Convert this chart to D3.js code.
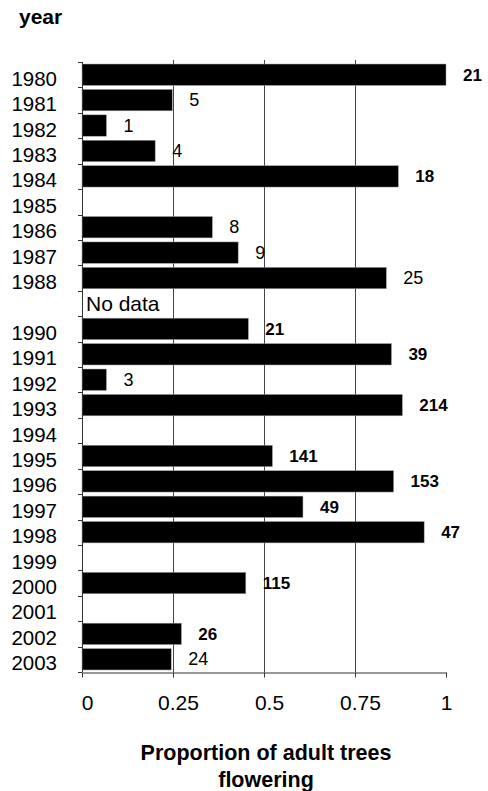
<!DOCTYPE html>
<html>
<head>
<meta charset="utf-8">
<script src="https://cdn.jsdelivr.net/npm/d3@7"></script>
<style>
  html, body { margin: 0; padding: 0; background: #fff; }
  svg { display: block; font-family: "Liberation Sans", Arial, sans-serif; }
</style>
</head>
<body>
<svg id="chart" width="488" height="791"></svg>
<script>
// ---- data ----
const years = ["1980","1981","1982","1983","1984","1985","1986","1987","1988","1989",
               "1990","1991","1992","1993","1994","1995","1996","1997","1998","1999",
               "2000","2001","2002","2003"];
const yearLabels = ["1980","1981","1982","1983","1984","1985","1986","1987","1988","",
               "1990","1991","1992","1993","1994","1995","1996","1997","1998","1999",
               "2000","2001","2002","2003"];
const proportion = [1.0, 0.248, 0.067, 0.201, 0.869, null, 0.358, 0.429, 0.836, null,
                    0.457, 0.85, 0.067, 0.88, null, 0.523, 0.856, 0.607, 0.94, null,
                    0.45, null, 0.273, 0.245];
const treeCounts = [21, 5, 1, 4, 18, null, 8, 9, 25, null,
                    21, 39, 3, 214, null, 141, 153, 49, 47, null,
                    115, null, 26, 24];
const countBold = [true, false, false, false, true, false, false, false, false, false,
                   true, true, false, true, false, true, true, true, true, false,
                   true, false, true, false];
const xTicks = [0, 0.25, 0.5, 0.75, 1];
const xTickLabels = ["0", "0.25", "0.5", "0.75", "1"];
const noDataYear = "1989";
const noDataText = "No data";
const yAxisTitle = "year";
const xAxisTitle = ["Proportion of adult trees", "flowering"];

// ---- layout ----
const svg = d3.select("#chart");
const mLeft = 82, mRight = 446, mTop = 62, mBottom = 672;

const x = d3.scaleLinear().domain([0, 1]).range([mLeft, mRight]);
const y = d3.scaleBand().domain(years).range([mTop, mBottom]).paddingInner(0.16).paddingOuter(0.08);
const yb = d3.scaleBand().domain(years).range([mTop, mBottom]);

// gridlines
svg.append("g").selectAll("line")
  .data(xTicks.filter(t => t > 0 && t < 1))
  .join("line")
  .attr("x1", d => Math.round(x(d)) + 0.5).attr("x2", d => Math.round(x(d)) + 0.5)
  .attr("y1", mTop - 2).attr("y2", mBottom)
  .attr("stroke", "#444").attr("stroke-width", 1);

// bars
const rows = years.map((yr, i) => ({ yr, v: proportion[i], n: treeCounts[i], b: countBold[i] }));
svg.append("g").selectAll("rect")
  .data(rows.filter(d => d.v != null))
  .join("rect")
  .attr("x", x(0))
  .attr("y", d => y(d.yr))
  .attr("width", d => x(d.v) - x(0))
  .attr("height", y.bandwidth())
  .attr("fill", "#000")
  .attr("stroke", "#999").attr("stroke-width", 0.5);

// count labels
svg.append("g").selectAll("text")
  .data(rows.filter(d => d.v != null && d.n != null))
  .join("text")
  .attr("x", d => x(d.v) + 17)
  .attr("y", d => yb(d.yr) + yb.bandwidth() / 2 + 6)
  .attr("font-size", d => d.b ? 17 : 18)
  .attr("font-weight", d => d.b ? "bold" : "normal")
  .attr("fill", "#000")
  .text(d => d.n);

// no data label
svg.append("text")
  .attr("x", x(0) + 4)
  .attr("y", yb(noDataYear) + yb.bandwidth() / 2 + 8)
  .attr("font-size", 21)
  .attr("fill", "#000")
  .text(noDataText);

// y axis line and ticks
const yAxis = svg.append("g");
yAxis.append("line")
  .attr("x1", mLeft + 0.5).attr("x2", mLeft + 0.5)
  .attr("y1", mTop).attr("y2", mBottom)
  .attr("stroke", "#333");
yAxis.selectAll("line.tk")
  .data(years.map(d => yb(d)).concat([mBottom]))
  .join("line").attr("class", "tk")
  .attr("x1", mLeft - 4).attr("x2", mLeft)
  .attr("y1", d => Math.round(d) + 0.5).attr("y2", d => Math.round(d) + 0.5)
  .attr("stroke", "#333");
yAxis.selectAll("text")
  .data(years)
  .join("text")
  .attr("x", 57)
  .attr("y", (d) => yb(d) + yb.bandwidth() / 2 + 11)
  .attr("text-anchor", "end")
  .attr("font-size", 20.5)
  .attr("fill", "#000")
  .text((d, i) => yearLabels[i]);

// x axis
const xAxisG = svg.append("g")
  .attr("transform", `translate(0,${mBottom + 0.5})`)
  .call(d3.axisBottom(x).tickValues(xTicks).tickSize(5).tickSizeOuter(0)
        .tickFormat((d, i) => xTickLabels[i]));
xAxisG.select(".domain").attr("stroke", "#333");
xAxisG.selectAll(".tick line").attr("stroke", "#333");
xAxisG.selectAll(".tick text")
  .attr("font-size", 21)
  .attr("font-family", "Liberation Sans, Arial, sans-serif")
  .attr("fill", "#000")
  .attr("y", 37).attr("dy", 0)
  .attr("dx", (d, i) => i < xTicks.length - 1 ? 5 : 0);

// titles
svg.append("text")
  .attr("x", 19).attr("y", 24)
  .attr("font-size", 21).attr("font-weight", "bold")
  .attr("fill", "#000")
  .text(yAxisTitle);

svg.append("text")
  .attr("x", 266).attr("text-anchor", "middle")
  .attr("font-size", 21.5).attr("font-weight", "bold")
  .attr("fill", "#000")
  .selectAll("tspan")
  .data(xAxisTitle)
  .join("tspan")
  .attr("x", 266)
  .attr("y", (d, i) => 760 + i * 27)
  .text(d => d);
</script>
</body>
</html>
